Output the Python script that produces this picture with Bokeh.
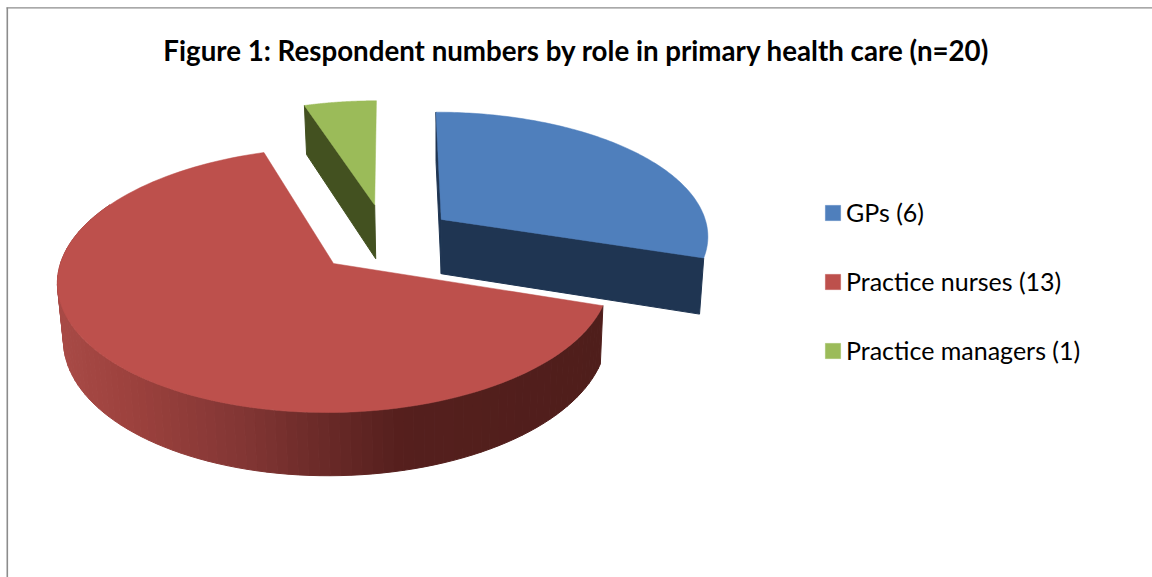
import math
from bokeh.plotting import figure
from bokeh.models import Range1d, Legend, LegendItem
from bokeh.core.properties import value
from bokeh.embed import file_html
from bokeh.resources import INLINE

TITLE = "Figure 1: Respondent numbers by role in primary health care (n=20)"
labels = ["GPs (6)", "Practice nurses (13)", "Practice managers (1)"]
counts = [6, 13, 1]
top_colors = ["#4f7fbc", "#bd504c", "#9bbb59"]
wall_colors = ["#1f3552", "#521f1c", "#435120"]
# explosion of each slice on the pie's plane (radius = 1)
explode_u = [0.41, 0.0, 0.159]
explode_v = [-0.342, 0.0, -0.47]

# pie projection (page pixels)
CX, CY = 333.0, 263.0
A, B, K = 130.5, 274.0, 0.124
SKEW = 0.012
START_DEG = 1.5
# red wall shading, by page x
shade_x = [57, 130, 233, 333, 400, 600]
shade_rgb = [(168, 74, 70), (156, 65, 61), (132, 55, 53), (103, 40, 38), (85, 31, 29), (79, 30, 27)]

W, H = 1152, 577


def top_pt(u, v):
    w = 1 - K * v
    dx = B * u / w
    return CX + dx, CY + A * v / w - SKEW * dx


def bottom_of(pt):
    x, y = pt
    return x + (440 - x) * 0.016, y + 56 + 0.046 * (y - 255)


def shade(x):
    if x <= shade_x[0]:
        c = shade_rgb[0]
    elif x >= shade_x[-1]:
        c = shade_rgb[-1]
    else:
        for i in range(len(shade_x) - 1):
            if shade_x[i] <= x <= shade_x[i + 1]:
                t = (x - shade_x[i]) / (shade_x[i + 1] - shade_x[i])
                c = tuple(round(a + (b - a) * t) for a, b in zip(shade_rgb[i], shade_rgb[i + 1]))
                break
    return "#%02x%02x%02x" % c


def rim(i, a0, a1, n):
    pts = []
    for j in range(n + 1):
        th = math.radians(a0 + (a1 - a0) * j / n)
        pts.append(top_pt(explode_u[i] + math.sin(th), explode_v[i] - math.cos(th)))
    return pts


p = figure(width=W, height=H, x_range=Range1d(0, W), y_range=Range1d(H, 0),
           output_backend="svg", toolbar_location=None, min_border=0,
           background_fill_color="white", border_fill_color="white")
p.axis.visible = False
p.grid.visible = False
p.outline_line_color = None

# chart-area edge
p.line([6.8, 6.8], [7, 577], line_color="#8c8c8c", line_width=1.6)
p.line([6, 1152], [7.4, 7.4], line_color="#8c8c8c", line_width=1.2)

total = sum(counts)
angle = START_DEG
renderers = []
spans = []
for c in counts:
    spans.append((angle, angle + 360.0 * c / total))
    angle += 360.0 * c / total

# walls
for i in [2, 0, 1]:
    a0, a1 = spans[i]
    apex = top_pt(explode_u[i], explode_v[i])
    if i == 1:
        r = rim(i, a0, 300.0, 96)
        xs, ys, cols = [], [], []
        for q0, q1 in zip(r[:-1], r[1:]):
            b0, b1 = bottom_of(q0), bottom_of(q1)
            xs.append([q0[0], q1[0], b1[0], b0[0]])
            ys.append([q0[1], q1[1], b1[1], b0[1]])
            cols.append(shade((q0[0] + q1[0]) / 2))
        p.patches(xs, ys, fill_color=cols, line_color=cols, line_width=1)
    else:
        r = rim(i, a0, a1, 60)
        quad = [apex, r[0], bottom_of(r[0]), bottom_of(apex)]
        p.patch([q[0] for q in quad], [q[1] for q in quad], fill_color=wall_colors[i], line_color=wall_colors[i])
        if i == 0:
            # inner cut of the blue slice, towards the viewer
            o0 = r[-1]
            quad = [apex, o0, bottom_of(o0), bottom_of(apex)]
            p.patch([q[0] for q in quad], [q[1] for q in quad], fill_color=wall_colors[i], line_color=wall_colors[i])

# top faces
for i in range(3):
    a0, a1 = spans[i]
    apex = top_pt(explode_u[i], explode_v[i])
    r = rim(i, a0, a1, 120)
    xs = [apex[0]] + [q[0] for q in r]
    ys = [apex[1]] + [q[1] for q in r]
    renderers.append(p.patch(xs, ys, fill_color=top_colors[i], line_color=top_colors[i], line_width=0.5))

# title
p.text([576], [49.5], text=[TITLE], text_font=value("Lato"), text_font_style="bold",
       text_font_size="27.7px", text_align="center", text_baseline="middle", text_color="#000000")

legend = Legend(items=[LegendItem(label=labels[i], renderers=[renderers[i]]) for i in range(3)],
                location=(823, 212), orientation="vertical",
                glyph_width=19, glyph_height=19, label_standoff=4,
                label_text_font="Lato", label_text_font_size="25px", label_text_color="#000000",
                label_height=15, spacing=39, padding=0, margin=0,
                background_fill_alpha=0, border_line_color=None)
p.add_layout(legend, "center")

open("out.html", "w").write(file_html(p, INLINE))
